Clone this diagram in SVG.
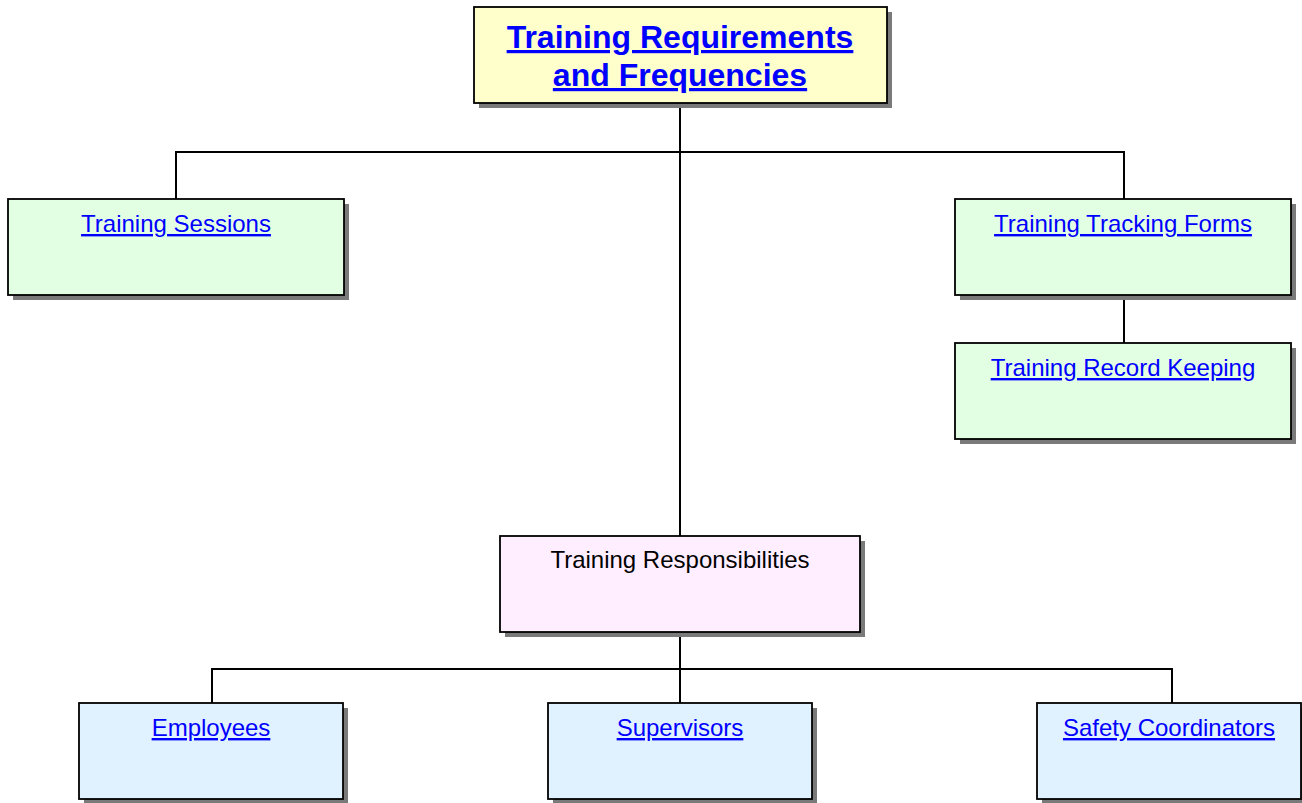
<svg xmlns="http://www.w3.org/2000/svg" width="1302" height="803" viewBox="0 0 1302 803">
  <style>
    .box { stroke: #000; stroke-width: 1.8; }
    .shadow { fill: #7a7a7a; }
    .root { fill: #FFFFCC; }
    .green { fill: #E3FFE3; }
    .pink { fill: #FFEEFF; }
    .blue { fill: #E0F2FF; }
    .link { font-family: "Liberation Sans", Arial, sans-serif; font-size: 24px; fill: #0000FF; text-decoration: underline; text-anchor: middle; }
    .plain { font-family: "Liberation Sans", Arial, sans-serif; font-size: 24px; fill: #000; text-anchor: middle; }
    .title { font-family: "Liberation Sans", Arial, sans-serif; font-size: 32px; font-weight: bold; fill: #0000FF; text-decoration: underline; text-anchor: middle; }
    .wire { stroke: #000; stroke-width: 2; fill: none; }
  </style>

  <!-- connectors -->
  <g id="connectors">
    <line class="wire" x1="680" y1="103" x2="680" y2="536"/>
    <polyline class="wire" points="176,199 176,152 1124,152 1124,199"/>
    <line class="wire" x1="1124" y1="295" x2="1124" y2="343"/>
    <line class="wire" x1="680" y1="632" x2="680" y2="703"/>
    <polyline class="wire" points="212,703 212,669 1172,669 1172,703"/>
  </g>

  <!-- root -->
  <g id="training-requirements">
    <rect class="shadow" x="479" y="12" width="413" height="96"/>
    <rect class="box root" x="474" y="7" width="413" height="96"/>
    <text class="title" x="680" y="48">Training Requirements</text>
    <text class="title" x="680" y="86">and Frequencies</text>
  </g>

  <g id="training-sessions">
    <rect class="shadow" x="13" y="204" width="336" height="96"/>
    <rect class="box green" x="8" y="199" width="336" height="96"/>
    <text class="link" x="176" y="232">Training Sessions</text>
  </g>

  <g id="training-tracking-forms">
    <rect class="shadow" x="960" y="204" width="336" height="96"/>
    <rect class="box green" x="955" y="199" width="336" height="96"/>
    <text class="link" x="1123" y="232">Training Tracking Forms</text>
  </g>

  <g id="training-record-keeping">
    <rect class="shadow" x="960" y="348" width="336" height="96"/>
    <rect class="box green" x="955" y="343" width="336" height="96"/>
    <text class="link" x="1123" y="376">Training Record Keeping</text>
  </g>

  <g id="training-responsibilities">
    <rect class="shadow" x="505" y="541" width="360" height="96"/>
    <rect class="box pink" x="500" y="536" width="360" height="96"/>
    <text class="plain" x="680" y="568">Training Responsibilities</text>
  </g>

  <g id="employees">
    <rect class="shadow" x="84" y="708" width="264" height="96"/>
    <rect class="box blue" x="79" y="703" width="264" height="96"/>
    <text class="link" x="211" y="736">Employees</text>
  </g>

  <g id="supervisors">
    <rect class="shadow" x="553" y="708" width="264" height="96"/>
    <rect class="box blue" x="548" y="703" width="264" height="96"/>
    <text class="link" x="680" y="736">Supervisors</text>
  </g>

  <g id="safety-coordinators">
    <rect class="shadow" x="1042" y="708" width="264" height="96"/>
    <rect class="box blue" x="1037" y="703" width="264" height="96"/>
    <text class="link" x="1169" y="736">Safety Coordinators</text>
  </g>
</svg>
